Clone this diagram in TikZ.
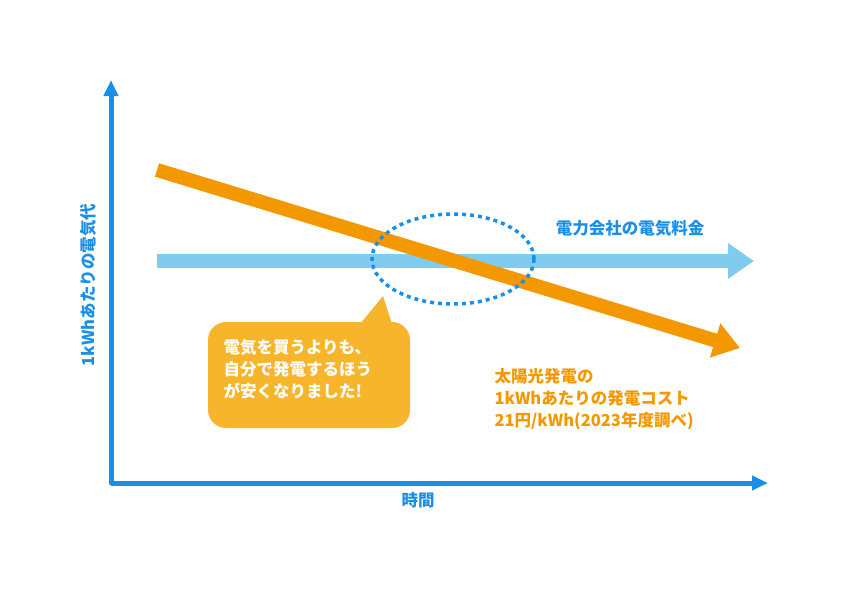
\documentclass[tikz,border=0pt]{standalone}
\usepackage{fontspec}
\setmainfont{Noto Sans CJK JP}
\usetikzlibrary{arrows.meta}
\definecolor{axisblue}{HTML}{1A8FE8}
\definecolor{lightblue}{HTML}{80CBF0}
\definecolor{sunorange}{HTML}{F39800}
\definecolor{bubble}{HTML}{F7B52C}
\begin{document}
\begin{tikzpicture}[x=1pt, y=-1pt, font=\fontsize{16.5}{22}\selectfont\bfseries]
		\tikzset{axis/.style={draw=axisblue, line width=5pt, -{Triangle[length=16pt, width=14pt]}}}
		\tikzset{bigarrow/.style={line width=14pt, -{Triangle[length=26pt, width=34pt]}}}
		\useasboundingbox (0,0) rectangle (842,595);
		% axes
		\coordinate (o) at (111,483);
		\coordinate (ytop) at (111,80);
		\coordinate (xend) at (768,483);
		\draw[axis, line cap=round] (o) -- (ytop);
		\draw[axis] (o) -- (xend);
		\node[text=axisblue, rotate=90] (ylab) at (88,285) {1kWhあたりの電気代};
		\node[text=axisblue] (xlab) at (418,500) {時間};
		% price lines
		\coordinate (blue0) at (157,261);
		\coordinate (blue1) at (754,261);
		\coordinate (or0) at (157,170);
		\coordinate (or1) at (740,348);
		\draw[bigarrow, lightblue] (blue0) -- (blue1);
		\draw[bigarrow, sunorange] (or0) -- (or1);
		\node[text=axisblue] (bluelab) at (630,228) {電力会社の電気料金};
		\node[text=sunorange, align=left, anchor=north west] (orlab) at (491,365) {太陽光発電の\\1kWhあたりの発電コスト\\21円/kWh(2023年度調べ)};
		% crossing
		\draw[axisblue, line width=3.5pt, dash pattern=on 4pt off 4pt] (453,259) ellipse [x radius=81, y radius=45];
		% callout
		\fill[bubble, rounded corners=18pt] (208,322) rectangle (410,428);
		\fill[bubble] (360,324) -- (383,296) -- (392,324) -- cycle;
		\node[text=white, align=left, anchor=north west] (bubtxt) at (220,336) {電気を買うよりも、\\自分で発電するほう\\が安くなりました!};
	\end{tikzpicture}
\end{document}
